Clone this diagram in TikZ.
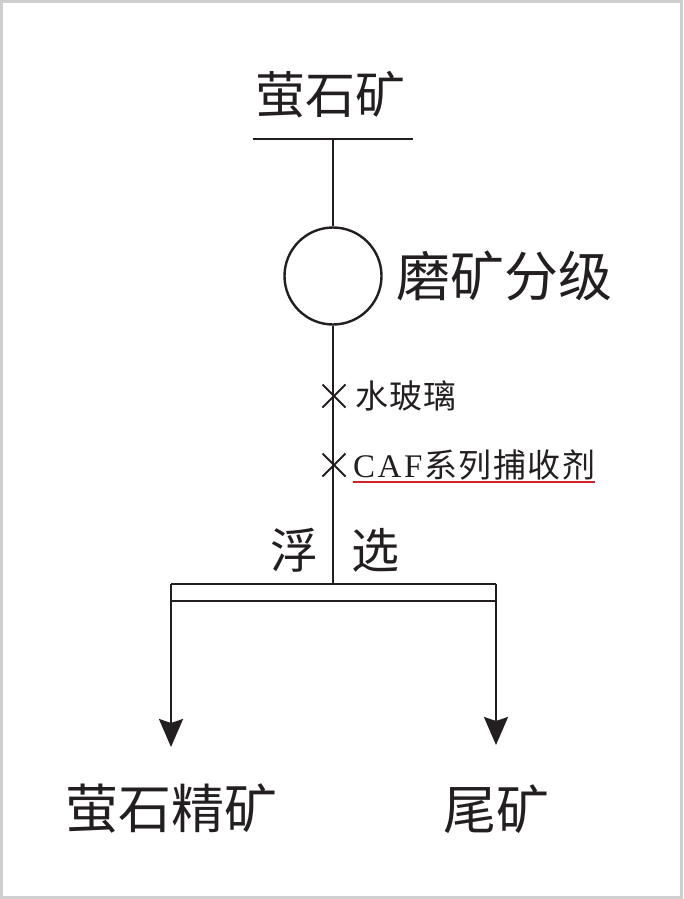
\documentclass[tikz,border=0pt]{standalone}
\usepackage{fontspec}
\setmainfont{Liberation Serif}
\newfontfamily\cjk{Noto Sans CJK SC}
\usepackage{tikz}
\usetikzlibrary{positioning,arrows.meta,shapes.misc}
\definecolor{ink}{HTML}{231F20}
\definecolor{redmark}{HTML}{D3222A}
\definecolor{frame}{HTML}{CFCFCF}
\tikzset{
  flow/.style={draw=ink, line width=2.4pt},
  big/.style={inner sep=0pt, text=ink, font=\cjk\fontsize{53}{53}\selectfont},
  small/.style={inner sep=0pt, text=ink, font=\cjk\fontsize{33}{33}\selectfont},
  outlet/.style={flow, -{Stealth[length=28pt,width=24pt,inset=4pt]}},
  dose/.style={cross out, draw=ink, line width=2pt, minimum size=21pt, inner sep=0pt},
}

\begin{document}
\begin{tikzpicture}[x=1pt,y=-1pt]
\useasboundingbox (0,0) rectangle (683,899);
\draw[frame, line width=3pt] (1.5,1.5) rectangle (681.5,897.5);
%----------------------------------
\node[big, font=\cjk\fontsize{50}{50}\selectfont] (ore) at (330,95) {萤石矿};
\coordinate (feed) at (333,139);
\coordinate [left=80pt of feed] (feedl);
\coordinate [right=80pt of feed] (feedr);
%----------------------------------
\node[circle, draw=ink, line width=2.4pt, minimum size=97pt, inner sep=0pt] (mill) at (333,276) {};
\node[big, font=\cjk\fontsize{54}{54}\selectfont, right=14pt of mill] (millt) {磨矿分级};
%----------------------------------
\coordinate (float) at (333,584);
\coordinate (barl) at (171,584); \coordinate (barr) at (496,584);
\coordinate (barl2) at (171,601); \coordinate (barr2) at (496,601);
\coordinate (conc) at (171,747); \coordinate (tail) at (496,745);
%----------------------------------
\draw[flow] (feedl) -- (feedr);
\draw[flow] (feed) -- (mill);
\draw[flow] (mill) -- (float);
\draw[flow] (barl) -- (barr);
\draw[flow] (barl2) -- (barr2);
\draw[outlet] (barl) -- (conc);
\draw[outlet] (barr) -- (tail);
%----------------------------------
\node[dose] (glass) at (334,396) {};
\node[small, anchor=west] (glasst) at (355,396) {水\kern1pt 玻\kern1pt 璃};
\node[dose] (caf) at (334,465) {};
\node[small, anchor=west] (caft) at (353,465)
  {{\rmfamily C\kern2.5pt A\kern2.5pt F\kern2pt}系\kern1.5pt 列\kern1.5pt 捕\kern1.5pt 收\kern1.5pt 剂};
\coordinate (ul) at (353,482); \coordinate (ur) at (595,482);
\draw[redmark, line width=2pt] (ul) -- (ur);
%----------------------------------
\node[big, font=\cjk\fontsize{48}{48}\selectfont] (fu) at (294,550) {浮};
\node[big, font=\cjk\fontsize{48}{48}\selectfont] (xuan) at (375,550) {选};
%----------------------------------
\node[big] (conct) at (171,808) {萤石精矿};
\node[big] (tailt) at (496,809) {尾矿};
\end{tikzpicture}
\end{document}
